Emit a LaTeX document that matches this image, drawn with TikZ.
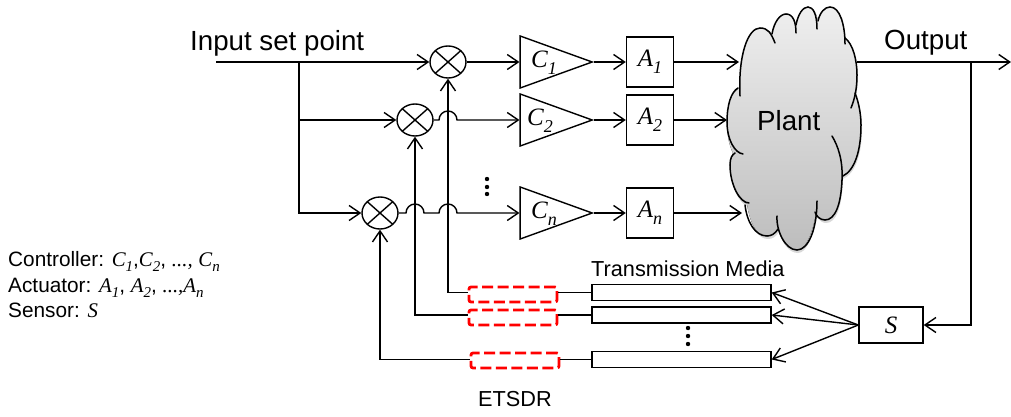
\documentclass[tikz,border=0pt]{standalone}
\usepackage{fontspec}
\setmainfont{Liberation Sans}
\newfontfamily\varfont{Liberation Serif}
\usepackage{xcolor}
\usetikzlibrary{arrows.meta, positioning, shapes.geometric, shadows, calc}
\definecolor{plantlight}{HTML}{EFEFEF}
\definecolor{plantdark}{HTML}{BDBDBD}
\definecolor{etsdrred}{HTML}{FF0000}
\newcommand{\varsub}[2]{{\varfont\itshape #1\raisebox{-0.28em}{\scalebox{0.72}{#2}}}}
\tikzset{
  wire/.style={line width=1.4pt},
  feed/.style={wire, -{Straight Barb[length=11pt,width=15pt,line width=1.4pt]}},
  mixer/.style={draw, wire, ellipse, inner sep=0pt, minimum width=36pt, minimum height=32pt,
    path picture={
      \draw[wire] (path picture bounding box.north west) -- (path picture bounding box.south east);
      \draw[wire] (path picture bounding box.north east) -- (path picture bounding box.south west);}},
  ctrl/.style={draw, wire, isosceles triangle, isosceles triangle stretches, inner sep=0pt,
    minimum width=52pt, minimum height=72pt, anchor=apex},
  actu/.style={draw, wire, inner sep=0pt, minimum width=47pt, minimum height=50pt},
  media/.style={draw, wire, inner sep=0pt, minimum width=179pt, minimum height=16pt},
  etsdr/.style={draw=etsdrred, line width=2.8pt, dash pattern=on 11pt off 4.5pt, rounded corners=2pt,
    inner sep=0pt, minimum width=88pt, minimum height=15pt},
  sensor/.style={draw, wire, inner sep=0pt, minimum width=64pt, minimum height=36pt},
  bigtext/.style={inner sep=0pt, anchor=base west, font=\fontsize{27.7}{30}\selectfont},
  smalltext/.style={inner sep=0pt, anchor=base west, font=\fontsize{21.7}{24}\selectfont},
  legendtext/.style={inner sep=0pt, anchor=base west, font=\fontsize{20.8}{24}\selectfont},
  vartext/.style={inner sep=0pt, font=\fontsize{25}{28}\selectfont},
  plantedge/.style={line width=1.5pt, line cap=round},
}

\begin{document}
\begin{tikzpicture}[x=1pt, y=-1pt]
  \useasboundingbox (0,0) rectangle (1011,417);

  % cloud
  \fill[top color=plantlight, bottom color=plantdark,
        drop shadow={shadow xshift=1pt, shadow yshift=-3pt, opacity=0.3}]
    (740,96) .. controls (738,55) and (748,28) .. (760,28)
    .. controls (766,28) and (770,31) .. (772,34)
    .. controls (774,22) and (780,14) .. (786,14)
    .. controls (791,14) and (795,18) .. (796,25)
    .. controls (798,14) and (803,7) .. (808,7)
    .. controls (813,7) and (816,12) .. (818,21)
    .. controls (820,12) and (825,7) .. (830,7)
    .. controls (838,7) and (843,22) .. (845,38)
    .. controls (853,44) and (857,60) .. (857,75)
    .. controls (857,82) and (856,88) .. (855,93)
    .. controls (859,103) and (861,115) .. (861,125)
    .. controls (861,150) and (855,170) .. (842,176)
    .. controls (841,205) and (835,220) .. (825,220)
    .. controls (822,220) and (818,218) .. (816,213)
    .. controls (812,235) and (805,250) .. (797,250)
    .. controls (788,250) and (781,240) .. (778,229)
    .. controls (775,234) and (771,236) .. (767,236)
    .. controls (757,236) and (750,224) .. (747,204)
    .. controls (738,200) and (730,185) .. (730,165)
    .. controls (730,161) and (731,157) .. (733,153)
    .. controls (729,145) and (727,135) .. (727,122)
    .. controls (727,105) and (731,92) .. (740,88) -- cycle;
  \foreach \ax/\ay/\bx/\by/\cx/\cy/\dx/\dy in {
      740/96/738/55/748/28/760/28,
      760/28/768/28/771/33/775/43,
      772/34/774/22/780/14/786/14,
      786/14/793/14/796/22/796/33,
      796/25/798/14/803/7/808/7,
      808/7/813/7/817/14/817/29,
      818/21/820/12/825/7/830/7,
      830/7/840/7/845/25/845/44,
      845/38/853/44/857/60/857/75,
      857/75/857/88/855/98/851/108,
      855/93/859/103/861/115/861/125,
      861/125/861/150/855/170/843/176,
      832/136/838/146/843/160/842/180,
      842/180/841/205/835/220/825/220,
      825/220/820/220/816/216/815/212,
      817/201/817/230/808/250/797/250,
      797/250/785/250/776/230/777/216,
      778/229/775/234/771/236/767/236,
      767/236/755/236/747/222/745/205,
      749/203/740/203/730/185/730/165,
      730/165/730/158/732/155/735/153,
      743/154/735/153/727/140/727/122,
      727/122/727/105/731/92/738/88}
  {
    \draw[plantedge] (\ax,\ay) .. controls (\bx,\by) and (\cx,\cy) .. (\dx,\dy);
  }
  \node[bigtext] (plant) at (757,131) {Plant};

  % forward paths
  \coordinate (inleft) at (216,62);
  \coordinate (inbranch) at (299,62);
  \foreach \i/\xx/\yy/\cx/\px in {1/448/62/544/739, 2/415/120/540/727, n/380/213/544/742}
  {
    \node[mixer] (m\i) at (\xx,\yy) {};
    \node[ctrl] (c\i) at (594,\yy) {};
    \node[vartext] (cl\i) at (\cx,\yy+1) {\varsub{C}{\i}};
    \node[actu] (a\i) at (650,\yy) {\fontsize{25}{28}\selectfont\varsub{A}{\i}};
    \coordinate (pin\i) at (\px,\yy);
    \draw[feed] (c\i.apex) -- (a\i.west);
    \draw[feed] (a\i.east) -- (pin\i);
  }
  \draw[feed] (inleft) -- (m1.west);
  \draw[feed] (inbranch) |- (m2.west);
  \draw[feed] (inbranch) |- (mn.west);
  \draw[feed] (m1.east) -- (c1.lower side);

  % line jumps
  \coordinate (jumpa) at (439,120);
  \coordinate (jumpb) at (406,213);
  \coordinate (jumpc) at (439,213);
  \draw[feed] (m2.east) -- (jumpa) arc[start angle=180, end angle=0, radius=9pt] -- (c2.lower side);
  \draw[feed] (mn.east) -- (jumpb) arc[start angle=180, end angle=0, radius=9pt]
    -- (jumpc) arc[start angle=180, end angle=0, radius=9pt] -- (cn.lower side);

  % feedback
  \node[sensor] (s) at (891,325) {\fontsize{25}{28}\selectfont\varfont\itshape S};
  \coordinate (outleft) at (857,62);
  \coordinate (outright) at (1011,62);
  \coordinate (outbranch) at (971,62);
  \draw[feed] (outleft) -- (outright);
  \draw[feed] (outbranch) |- (s.east);
  \foreach \i/\yb/\xe/\ye in {1/292.5/513/294.5, 2/315/513/317.5, n/359.5/515/360.5}
  {
    \node[media] (b\i) at (681.5,\yb) {};
    \node[etsdr] (e\i) at (\xe,\ye) {};
    \draw[wire] (b\i.west) -- (b\i.west -| e\i.east);
    \draw[feed] (b\i.west -| e\i.west) -| (m\i.south);
    \draw[feed] (s.west) -- (b\i.east);
  }
  \foreach \yy in {179,187,194}
    \fill (487,\yy) circle[radius=2.2pt];
  \foreach \yy in {328,336,344}
    \fill (688,\yy) circle[radius=2.2pt];

  % labels
  \node[bigtext] (input) at (190,51) {Input set point};
  \node[bigtext] (output) at (884,50) {Output};
  \node[smalltext] (mediatext) at (591,276) {Transmission Media};
  \node[smalltext] (etsdrtext) at (478,406) {ETSDR};
  \node[legendtext] (ctrltext) at (8,266) {Controller: \varsub{C}{1},\varsub{C}{2}, {\varfont\itshape ...,} \varsub{C}{n}};
  \node[legendtext] (actutext) at (8,292) {Actuator: \varsub{A}{1}, \varsub{A}{2}, {\varfont\itshape ...,}\varsub{A}{n}};
  \node[legendtext] (senstext) at (8,317) {Sensor: {\varfont\itshape S}};
\end{tikzpicture}
\end{document}
